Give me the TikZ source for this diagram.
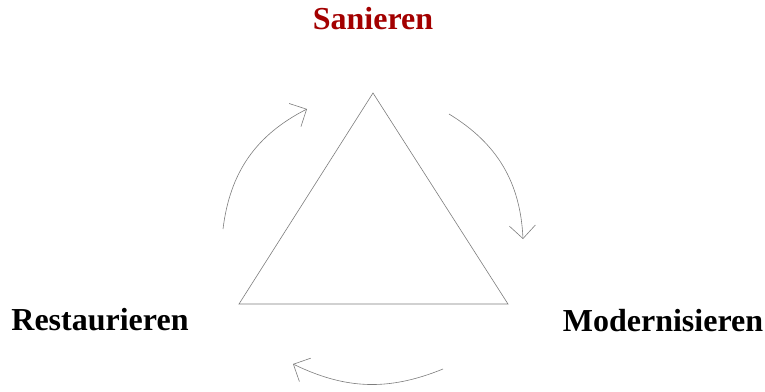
\documentclass[tikz,border=0pt]{standalone}
\usepackage{fontspec}
\setmainfont{Liberation Serif}
\usetikzlibrary{arrows.meta}
\definecolor{sanred}{RGB}{163,0,0}
\definecolor{linegray}{RGB}{125,125,125}
\begin{document}
\begin{tikzpicture}[x=1pt,y=-1pt,
  label/.style={font=\bfseries\fontsize{32}{36}\selectfont,inner sep=0pt,anchor=base},
  tri/.style={draw=linegray,line width=0.6pt,line join=miter},
  cyc/.style={draw=linegray,line width=0.6pt,bend left=28,-{Straight Barb[length=13pt,width=26pt,line width=0.6pt]}}]
\useasboundingbox (0,0) rectangle (765,391);
\node[label,text=sanred] (san) at (373,29) {Sanieren};
\node[label] (res) at (100,330) {Restaurieren};
\node[label] (mod) at (663,331) {Modernisieren};
\coordinate (top) at (373,93);
\coordinate (bl) at (239,304);
\coordinate (br) at (508,304);
\draw[tri] (top) -- (br) -- (bl) -- cycle;
\coordinate (a1s) at (223,229);
\coordinate (a1e) at (307,109);
\coordinate (a2s) at (449,114);
\coordinate (a2e) at (523,239);
\coordinate (a3s) at (443,369);
\coordinate (a3e) at (293,364);
\draw[cyc] (a1s) to (a1e);
\draw[cyc] (a2s) to (a2e);
\draw[cyc,bend left=24] (a3s) to (a3e);
\end{tikzpicture}
\end{document}
